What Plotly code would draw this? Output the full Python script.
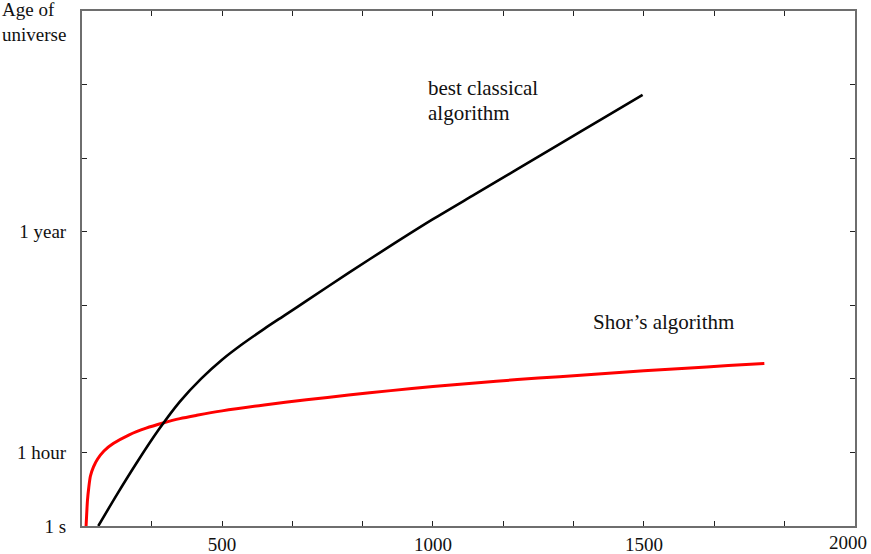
import plotly.graph_objects as go

# Shor's algorithm (red) — x: number of bits, y: time (chart units, 0 = 1 s)
shor_x = [177.5, 179, 181, 184, 188, 195, 205, 220, 242, 280, 320, 360, 400, 440,
          500, 600, 700, 800, 900, 1000, 1100, 1200, 1300, 1400, 1500, 1600, 1700, 1785.6]
shor_y = [-0.02, 0.15, 0.35, 0.52, 0.68, 0.80, 0.91, 1.02, 1.12, 1.24, 1.33, 1.40, 1.46, 1.505,
          1.565, 1.645, 1.715, 1.78, 1.84, 1.895, 1.945, 1.99, 2.03, 2.07, 2.11, 2.145, 2.18, 2.21]

# Best classical algorithm (black)
classical_x = [206.6, 250, 300, 350, 400, 450, 500, 550, 600, 650, 700, 800, 900,
               1000, 1100, 1200, 1300, 1400, 1497]
classical_y = [0.0, 0.42, 0.88, 1.31, 1.69, 2.00, 2.26, 2.48, 2.68, 2.87, 3.06, 3.44, 3.81,
               4.17, 4.51, 4.85, 5.19, 5.53, 5.86]

# Axis ticks
x_tickvals = [333.33, 500, 666.67, 833.33, 1000, 1166.67, 1333.33, 1500, 1666.67, 1833.33, 2000]
x_ticktext = ["", "500", "", "", "1000", "", "", "1500", "", "", "2000"]
y_tickvals = [0, 1, 2, 3, 4, 5, 6]
y_ticktext = ["1 s", "1 hour", "", "", "1 year", "", ""]

FONT = "Liberation Serif, Times New Roman, serif"
AXIS_COLOR = "#6e6e6e"
tick_font = dict(family=FONT, size=19, color="#111")

# last x label sits at the very right edge: drawn as an annotation shifted inward
axis_ticktext = x_ticktext[:-1] + [""]

fig = go.Figure()
fig.add_trace(go.Scatter(x=shor_x, y=shor_y, mode="lines",
                         line=dict(color="#ff0000", width=3, shape="spline", smoothing=0.8),
                         showlegend=False))
fig.add_trace(go.Scatter(x=classical_x, y=classical_y, mode="lines",
                         line=dict(color="#000000", width=2.6, shape="spline", smoothing=0.8),
                         showlegend=False))

fig.update_layout(
    width=871, height=554,
    margin=dict(l=82, r=16, t=11, b=28),
    paper_bgcolor="white", plot_bgcolor="white",
    font=dict(family=FONT, size=19, color="#111"),
    showlegend=False,
    xaxis=dict(range=[168, 2000.5], tickmode="array", tickvals=x_tickvals, ticktext=axis_ticktext,
               automargin=False,
               showgrid=False, zeroline=False, showline=True, linecolor=AXIS_COLOR, linewidth=2,
               mirror="ticks", ticks="inside", ticklen=5, tickwidth=1, tickcolor="#222",
               tickfont=tick_font),
    yaxis=dict(range=[0, 7], tickmode="array", tickvals=y_tickvals, ticktext=y_ticktext,
               automargin=False, ticklabeloverflow="allow",
               showgrid=False, zeroline=False, showline=True, linecolor=AXIS_COLOR, linewidth=2,
               mirror="ticks", ticks="inside", ticklen=5, tickwidth=1, tickcolor="#222",
               ticklabelstandoff=10,
               tickfont=tick_font),
)

fig.add_annotation(xref="x", yref="paper", x=x_tickvals[-1], y=0, xanchor="center", yanchor="middle",
                   xshift=-7, yshift=-16, text=x_ticktext[-1], showarrow=False, font=tick_font)

ann_font = dict(family=FONT, size=21, color="#111")
fig.add_annotation(xref="paper", yref="paper", x=-82/773, y=1 + 2/515, xanchor="left", yanchor="middle",
                   text="Age of", showarrow=False, font=tick_font)
fig.add_annotation(xref="paper", yref="paper", x=-82/773, y=1 - 23/515, xanchor="left", yanchor="middle",
                   text="universe", showarrow=False, font=tick_font)
fig.add_annotation(xref="x", yref="y", x=983, y=5.95, xanchor="left", yanchor="middle",
                   text="best classical", showarrow=False, font=ann_font)
fig.add_annotation(xref="x", yref="y", x=983, y=5.62, xanchor="left", yanchor="middle",
                   text="algorithm", showarrow=False, font=ann_font)
fig.add_annotation(xref="x", yref="y", x=1374, y=2.77, xanchor="left", yanchor="middle",
                   text="Shor\u2019s algorithm", showarrow=False, font=ann_font)

fig.write_html("out.html")
